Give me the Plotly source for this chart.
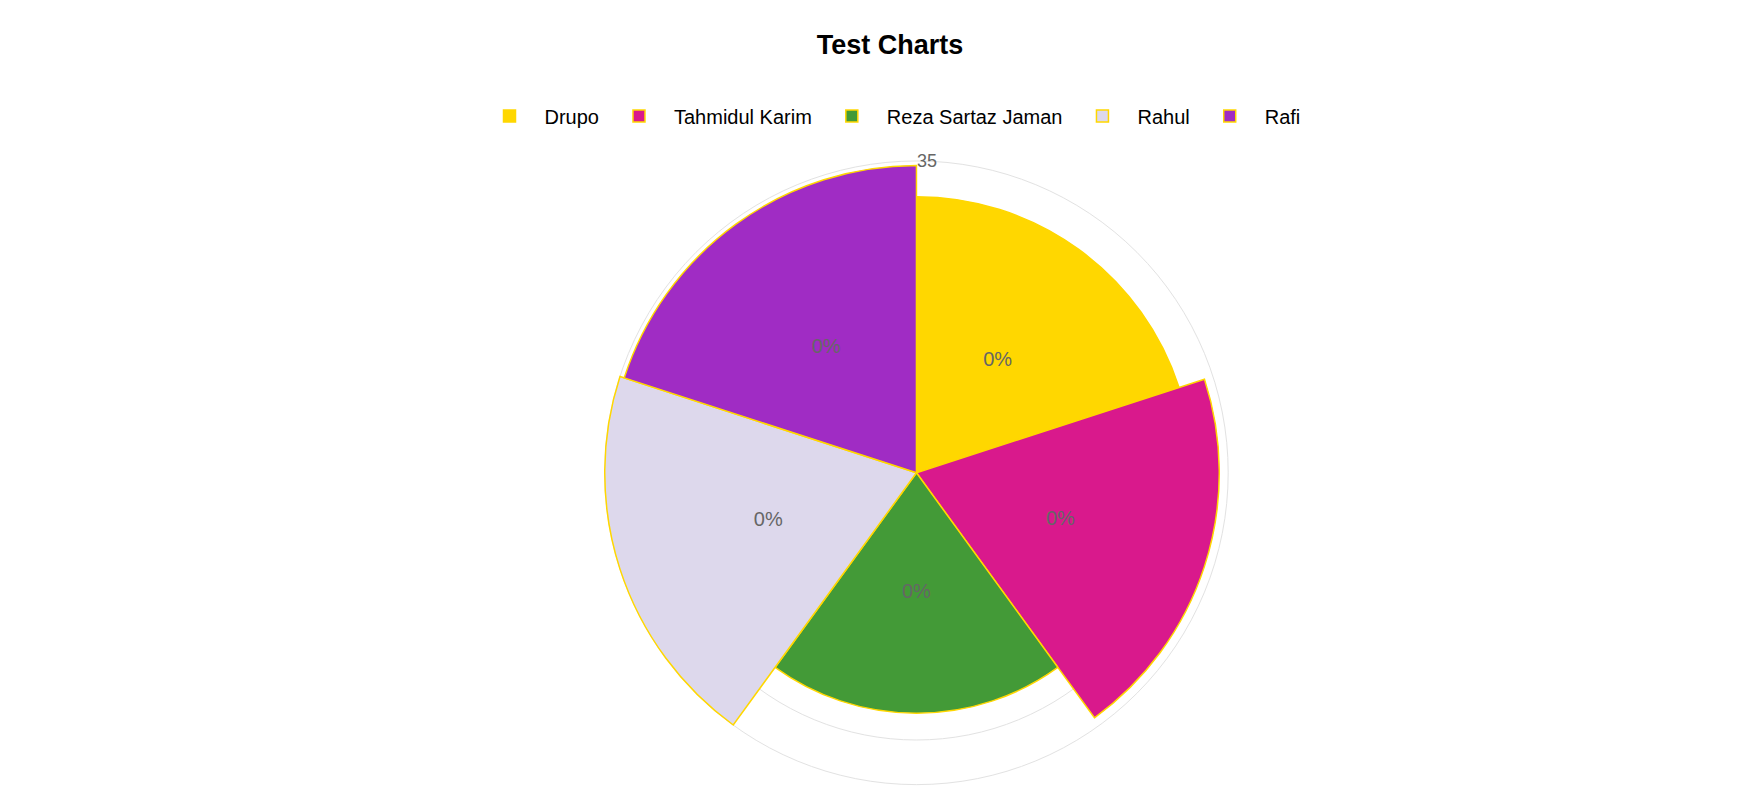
import plotly.graph_objects as go

names = ["Drupo", "Tahmidul Karim", "Reza Sartaz Jaman", "Rahul", "Rafi"]
values = [31, 34, 27, 35, 34.5]
colors = ["#FFD700", "#D9198C", "#439A37", "#DDD8EC", "#A02CC4"]
label_pct = ["0%", "0%", "0%", "0%", "0%"]
angles = [36, 108, 180, 252, 324]

fig = go.Figure()
for n, v, c, a in zip(names, values, colors, angles):
    fig.add_trace(go.Barpolar(r=[v], theta=[a], width=[72], name=n,
                              marker=dict(color=c, line=dict(color="#FFD700", width=1.5))))

fig.add_trace(go.Scatterpolar(r=[v / 2 for v in values], theta=angles, mode="text",
                              text=label_pct, textfont=dict(color="#666666", size=20),
                              showlegend=False, hoverinfo="skip"))

fig.update_layout(
    width=1764, height=800, paper_bgcolor="white",
    font=dict(family="Liberation Sans, Arial", color="#000"),
    title=dict(text="<b>Test Charts</b>", x=0.5, xanchor="center", y=0.954, yanchor="middle",
               font=dict(size=27, color="#000")),
    legend=dict(orientation="h", x=0.5, xanchor="center", y=0.865, yanchor="middle",
                font=dict(size=20), itemwidth=60),
    margin=dict(l=0, r=0, t=0, b=0),
    polar=dict(
        domain=dict(x=[0.336, 0.694], y=[0.026, 0.812]),
        bgcolor="white",
        angularaxis=dict(rotation=90, direction="clockwise", visible=False),
        radialaxis=dict(range=[0, 35.3], tickvals=[5, 10, 15, 20, 25, 30, 35],
                        ticktext=["", "", "", "", "", "", "35"], angle=90, tickangle=90,
                        showline=False, gridcolor="#e2e2e2", ticks="",
                        tickfont=dict(size=18, color="#666666")),
    ),
)
fig.write_html("out.html")
